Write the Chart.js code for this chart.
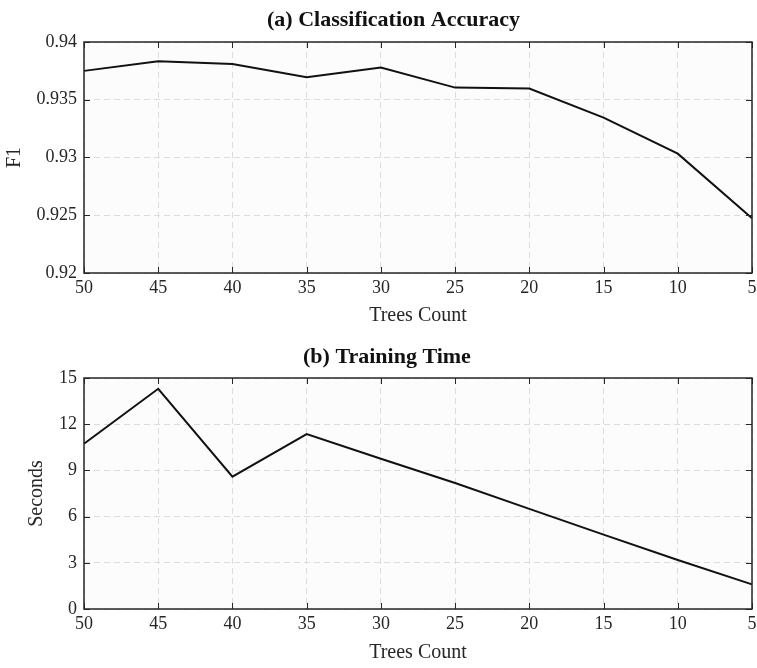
<!DOCTYPE html>
<html>
<head>
<meta charset="utf-8">
<script src="https://cdn.jsdelivr.net/npm/chart.js@4"></script>
<style>
  body { margin: 0; background: #fff; }
  .box { position: absolute; left: 0; width: 757px; }
</style>
</head>
<body>
<div class="box" style="top:0;height:335px"><canvas id="accChart"></canvas></div>
<div class="box" style="top:335px;height:333px"><canvas id="timeChart"></canvas></div>
<script>
const treeCounts = ["50", "45", "40", "35", "30", "25", "20", "15", "10", "5"];
const f1Scores = [0.9375, 0.93834, 0.9381, 0.93695, 0.93779, 0.93605, 0.93597, 0.93345, 0.93033, 0.92474];
const trainSeconds = [10.73, 14.3, 8.59, 11.36, 9.76, 8.18, 6.5, 4.83, 3.18, 1.6];
const f1Ticks = [0.92, 0.925, 0.93, 0.935, 0.94];
const secondTicks = [0, 3, 6, 9, 12, 15];

const serif = "'Liberation Serif', 'Times New Roman', serif";
const gridColor = "#dcdcdc";
const textColor = "#262626";

// MATLAB-style box with ticks pointing inward on all four sides
const boxPlugin = {
    id: "matlabBox",
    beforeDraw(chart) {
        const a = chart.chartArea;
        const ctx = chart.ctx;
        ctx.save();
        ctx.fillStyle = "#fcfcfc";
        ctx.fillRect(a.left, a.top, a.right - a.left, a.bottom - a.top);
        ctx.restore();
    },
    afterDraw(chart) {
        const a = chart.chartArea;
        const ctx = chart.ctx;
        const x = chart.scales.x, y = chart.scales.y;
        const len = 6;
        ctx.save();
        ctx.strokeStyle = textColor;
        ctx.lineWidth = 1;
        ctx.beginPath();
        x.ticks.forEach((t, i) => {
            const px = Math.round(x.getPixelForTick(i)) + 0.5;
            ctx.moveTo(px, a.bottom); ctx.lineTo(px, a.bottom - len);
            ctx.moveTo(px, a.top); ctx.lineTo(px, a.top + len);
        });
        y.ticks.forEach((t, i) => {
            const py = Math.round(y.getPixelForTick(i)) + 0.5;
            ctx.moveTo(a.left, py); ctx.lineTo(a.left + len, py);
            ctx.moveTo(a.right, py); ctx.lineTo(a.right - len, py);
        });
        ctx.stroke();
        ctx.lineWidth = 1.5;
        ctx.strokeRect(a.left, a.top, a.right - a.left, a.bottom - a.top);
        ctx.restore();
    }
};

// bold heading drawn above the plot
function headingPlugin(text, left, baseline) {
    return {
        id: "heading",
        afterDraw(chart) {
            const ctx = chart.ctx;
            ctx.save();
            ctx.fillStyle = "#111";
            ctx.textBaseline = "alphabetic";
            ctx.textAlign = "left";
            ctx.font = "bold 22px " + serif;
            ctx.fillText(text, left, baseline);
            ctx.restore();
        }
    };
}

function makeChart(id, values, ticks, yLabel, yTitlePad, xTitlePad, pad, yFmt, heading) {
    return new Chart(document.getElementById(id), {
        type: "line",
        data: {
            labels: treeCounts,
            datasets: [{
                data: values,
                borderColor: "#111",
                borderWidth: 2,
                pointRadius: 0,
                tension: 0,
                clip: false
            }]
        },
        options: {
            responsive: true,
            maintainAspectRatio: false,
            animation: false,
            layout: { padding: { top: pad.top, left: 0, right: 5, bottom: 0 } },
            plugins: { legend: { display: false }, tooltip: { enabled: false } },
            scales: {
                x: {
                    offset: false,
                    grid: { color: gridColor, drawTicks: false },
                    border: { display: false, dash: [6, 4] },
                    ticks: { color: textColor, font: { family: serif, size: 18 }, padding: 4, maxRotation: 0, autoSkip: false },
                    title: { display: true, text: "Trees Count", color: textColor, font: { family: serif, size: 20 }, padding: { top: 0, bottom: xTitlePad } },
                    afterFit: s => { s.height = pad.xHeight; s.paddingLeft = 0; s.paddingRight = 0; }
                },
                y: {
                    min: ticks[0],
                    max: ticks[ticks.length - 1],
                    afterBuildTicks: s => { s.ticks = ticks.map(v => ({ value: v })); },
                    grid: { color: gridColor, drawTicks: false },
                    border: { display: false, dash: [6, 4] },
                    ticks: { color: textColor, font: { family: serif, size: 18 }, padding: 7, callback: yFmt },
                    title: { display: true, text: yLabel, color: textColor, font: { family: serif, size: 20 }, padding: { top: yTitlePad, bottom: 0 } },
                    afterFit: s => { s.width = 84; }
                }
            }
        },
        plugins: [boxPlugin, heading]
    });
}

const accChart = makeChart("accChart", f1Scores, f1Ticks, "F1", 3, 7,
    { top: 42, xHeight: 62 },
    v => String(+v.toFixed(3)),
    headingPlugin("(a) Classification Accuracy", 267, 26));

const timeChart = makeChart("timeChart", trainSeconds, secondTicks, "Seconds", 25, 3,
    { top: 43, xHeight: 59 },
    v => String(v),
    headingPlugin("(b) Training Time", 303, 28));
</script>
</body>
</html>
